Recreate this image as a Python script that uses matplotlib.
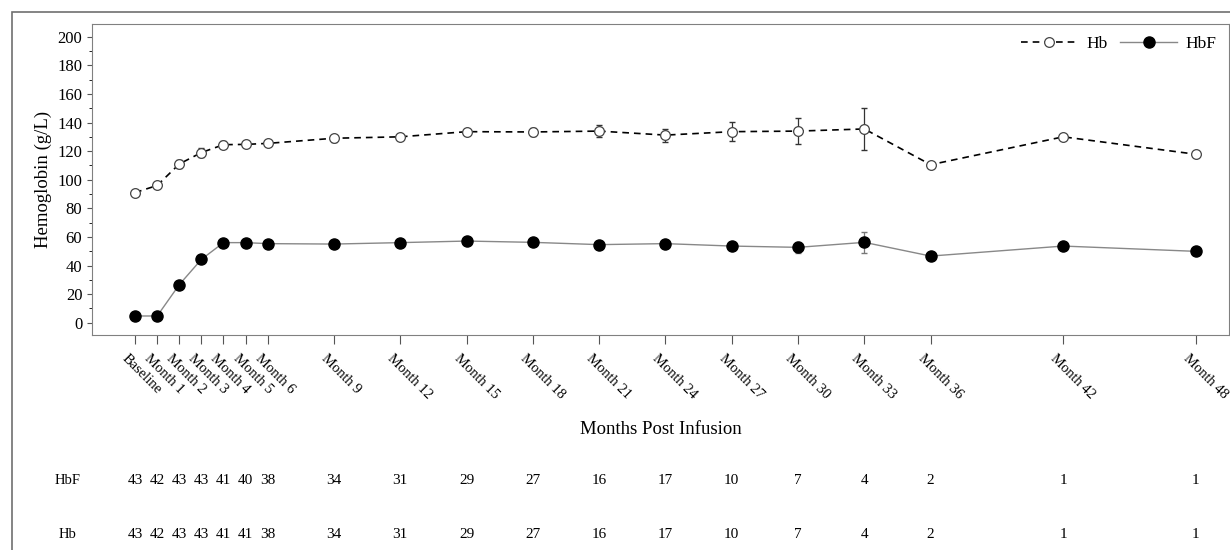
import matplotlib.pyplot as plt
from matplotlib.patches import Rectangle
from matplotlib.ticker import MultipleLocator
from matplotlib.transforms import ScaledTranslation

plt.rcParams['font.family'] = ['Liberation Serif', 'DejaVu Serif']

# данные
months = [0, 1, 2, 3, 4, 5, 6, 9, 12, 15, 18, 21, 24, 27, 30, 33, 36, 42, 48]
labels = ['Baseline', 'Month 1', 'Month 2', 'Month 3', 'Month 4', 'Month 5', 'Month 6',
          'Month 9', 'Month 12', 'Month 15', 'Month 18', 'Month 21', 'Month 24',
          'Month 27', 'Month 30', 'Month 33', 'Month 36', 'Month 42', 'Month 48']
hb = [91, 96, 111, 119, 124.5, 124.7, 125.4, 129, 130, 133.6, 133.4, 134, 131.2,
      133.6, 134, 135.5, 110.5, 130, 117.8]
hb_err = [2, 2, 2.5, 3, 2.5, 2, 2, 2.5, 2, 2, 3, 4, 4.5, 6.5, 9, 15, 2, 0, 0]
hbf = [4.7, 4.7, 26.6, 44.3, 56, 56, 55.3, 55, 56, 57.1, 56.2, 54.6, 55.3, 53.6,
       52.7, 56.2, 46.6, 53.6, 49.9]
hbf_err = [1, 1, 1.5, 1.5, 1.5, 1.5, 1.5, 1.5, 1.5, 1.5, 1.5, 1.5, 1.5, 3, 4, 7.5, 1, 0, 0]
n_hbf = [43, 42, 43, 43, 41, 40, 38, 34, 31, 29, 27, 16, 17, 10, 7, 4, 2, 1, 1]
n_hb = [43, 42, 43, 43, 41, 41, 38, 34, 31, 29, 27, 16, 17, 10, 7, 4, 2, 1, 1]

fig = plt.figure(figsize=(12.3, 5.5), dpi=100)
ax = fig.add_axes([92 / 1230, 1 - 335 / 550, 1137 / 1230, 311 / 550])

# внешняя рамка
fig.patches.append(Rectangle((12 / 1230, -0.1), 1.2, 1 - 12 / 550 + 0.1, transform=fig.transFigure,
                             fill=False, edgecolor='#707070', linewidth=1.2))

ax.errorbar(months, hb, yerr=hb_err, fmt='none', ecolor='#333333', elinewidth=0.9, capsize=2.5)
ax.errorbar(months, hbf, yerr=hbf_err, fmt='none', ecolor='#777777', elinewidth=0.9, capsize=2.5)
ax.plot(months, hb, linestyle=(0, (4, 3)), color='black', linewidth=1.2, marker='o', markersize=7,
        markerfacecolor='white', markeredgecolor='#444444', markeredgewidth=0.9, label='Hb')
ax.plot(months, hbf, linestyle='-', color='#888888', linewidth=1.0, marker='o', markersize=8,
        markerfacecolor='black', markeredgecolor='black', label='HbF')

ax.set_xlim(-1.95, 49.5)
ax.set_ylim(-8.6, 208.9)
ax.yaxis.set_major_locator(MultipleLocator(20))
ax.yaxis.set_minor_locator(MultipleLocator(10))
ax.set_xticks(months)
ax.tick_params(axis='both', colors='#555555', labelcolor='black')
ax.tick_params(axis='y', labelsize=12)
ax.tick_params(axis='x', length=6.5, labelbottom=False)
for s in ax.spines.values():
    s.set_color('#808080')

# подписи оси x (повернутые), чуть левее засечек
tr = ax.get_xaxis_transform()
shift = ScaledTranslation(-6 / 100, 0, fig.dpi_scale_trans)
for m, lab in zip(months, labels):
    ax.text(m, (335 - 352) / 311, lab, transform=tr + shift, rotation=-45, rotation_mode='anchor',
            ha='left', va='top', fontsize=10.5)

ax.set_ylabel('Hemoglobin (g/L)', fontsize=13.5)
ax.set_xlabel('Months Post Infusion', fontsize=13.5, va='center')
ax.xaxis.set_label_coords(0.5, (335 - 430) / 311)

ax.legend(loc='upper right', ncol=2, frameon=False, fontsize=12.5, handlelength=3.3,
          handletextpad=0.5, columnspacing=0.7, borderaxespad=0.3)

# таблица числа пациентов
for m, a, b in zip(months, n_hbf, n_hb):
    ax.text(m, (335 - 481) / 311, str(a), transform=tr, ha='center', va='center', fontsize=11)
    ax.text(m, (335 - 534) / 311, str(b), transform=tr, ha='center', va='center', fontsize=11)
fig.text(68 / 1230, 1 - 481 / 550, 'HbF', ha='center', va='center', fontsize=10.5)
fig.text(68 / 1230, 1 - 534 / 550, 'Hb', ha='center', va='center', fontsize=10.5)

fig.savefig('out.png', dpi=100)
